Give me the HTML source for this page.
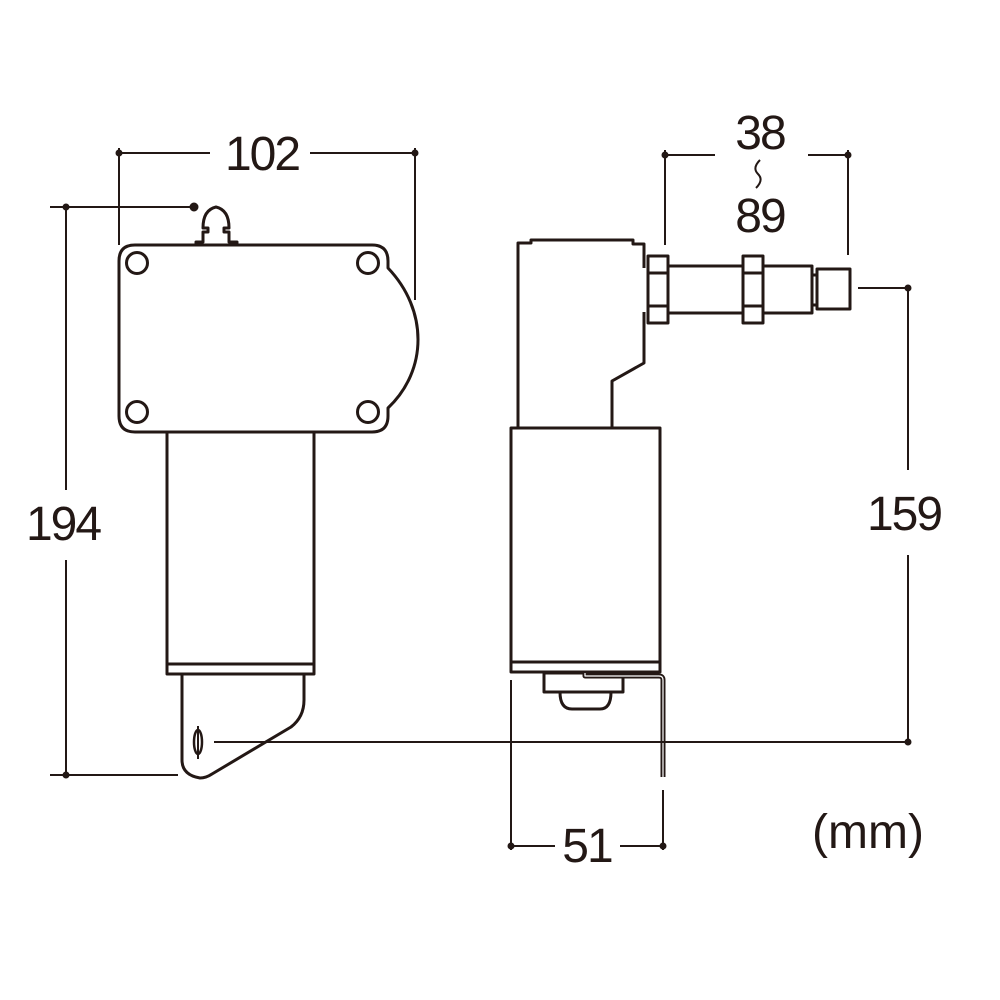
<!DOCTYPE html>
<html><head><style>body{margin:0;background:#fff}svg{display:block}text{font-family:"Liberation Sans",Arial,sans-serif;font-size:48px;fill:#231815;letter-spacing:-2px}</style></head>
<body>
<svg width="1000" height="1000" viewBox="0 0 1000 1000" xmlns="http://www.w3.org/2000/svg">
<g fill="none" stroke="#231815" stroke-width="3" stroke-linejoin="round">
<!-- Left view -->
<path d="M135 245 H372 Q388 245 388 261 V268 C428 310 428 370 388 408 V416 Q388 432 372 432 H135 Q119 432 119 416 V261 Q119 245 135 245 Z"/>
<circle cx="137" cy="263" r="10.5"/><circle cx="368" cy="263" r="10.5"/>
<circle cx="137" cy="412" r="10.5"/><circle cx="368" cy="412" r="10.5"/>
<path d="M196 245 V242 H203 V232 H208 V228 H203 Q203 210 216 207 Q229 210 229 228 H224 V232 H229 V242 H237 V245"/>
<rect x="167" y="432" width="147" height="242"/>
<line x1="167" y1="664" x2="314" y2="664"/>
<path d="M182 674 V760 Q182 775 200 778 Q206 778 212 774 L291 727 Q304 717 304 700 V674"/>
<ellipse cx="198" cy="742" rx="4" ry="12" stroke-width="2.5"/>
<line x1="198" y1="726" x2="198" y2="759" stroke-width="2"/>
<!-- Right view -->
<path d="M518 428 V243 H531 V240 H633 V244 H644 V268"/>
<path d="M644 312 V363 L612 381 V428"/>
<rect x="648" y="256" width="20" height="67"/>
<line x1="648" y1="273" x2="668" y2="273"/><line x1="648" y1="306" x2="668" y2="306"/>
<path d="M668 266 H743 M668 313 H743"/>
<rect x="743" y="256" width="20" height="67"/>
<line x1="743" y1="273" x2="763" y2="273"/><line x1="743" y1="306" x2="763" y2="306"/>
<path d="M763 266 H812 V313 H763"/>
<rect x="812" y="275" width="5" height="30"/>
<rect x="817" y="269" width="33" height="40"/>
<rect x="511" y="428" width="149" height="244"/>
<line x1="511" y1="662" x2="660" y2="662"/>
<rect x="544" y="673" width="79" height="19"/>
<path d="M560 692 Q560 709 572 709 H600 Q611 709 611 692"/>
<path d="M585 673 V676 H659 Q663 676 663 680 V777" stroke-width="5"/>
<path d="M585 673 V676 H659 Q663 676 663 680 V777" stroke="#fff" stroke-width="1.2"/>
</g>
<g stroke="#231815" stroke-width="2" fill="#231815">
<line x1="119" y1="148" x2="119" y2="245"/><line x1="415" y1="148" x2="415" y2="300"/>
<line x1="119" y1="153" x2="210" y2="153"/><line x1="310" y1="153" x2="415" y2="153"/>
<circle cx="119" cy="153" r="2.5"/><circle cx="415" cy="153" r="2.5"/>
<line x1="50" y1="207" x2="194" y2="207"/><line x1="50" y1="775" x2="178" y2="775"/>
<line x1="66" y1="207" x2="66" y2="490"/><line x1="66" y1="560" x2="66" y2="775"/>
<circle cx="66" cy="207" r="2.5"/><circle cx="66" cy="775" r="2.5"/><circle cx="194" cy="207" r="3.5"/>
<line x1="858" y1="288" x2="908" y2="288"/>
<line x1="908" y1="288" x2="908" y2="470"/><line x1="908" y1="555" x2="908" y2="742"/>
<line x1="214" y1="742" x2="908" y2="742"/>
<circle cx="908" cy="288" r="2.5"/><circle cx="908" cy="742" r="2.5"/>
<line x1="511" y1="680" x2="511" y2="850"/><line x1="663" y1="790" x2="663" y2="850"/>
<line x1="511" y1="846" x2="555" y2="846"/><line x1="620" y1="846" x2="663" y2="846"/>
<circle cx="511" cy="846" r="2.5"/><circle cx="663" cy="846" r="2.5"/>
<line x1="665" y1="150" x2="665" y2="245"/><line x1="848" y1="150" x2="848" y2="255"/>
<line x1="665" y1="155" x2="715" y2="155"/><line x1="808" y1="155" x2="848" y2="155"/>
<circle cx="665" cy="155" r="2.5"/><circle cx="848" cy="155" r="2.5"/>
<path d="M760 160 Q752 168 758 174 Q764 180 756 188" fill="none"/>
</g>
<text x="262" y="170" text-anchor="middle">102</text>
<text x="63" y="540" text-anchor="middle">194</text>
<text x="904" y="530" text-anchor="middle">159</text>
<text x="587" y="862" text-anchor="middle">51</text>
<text x="760" y="149" text-anchor="middle">38</text>
<text x="760" y="232" text-anchor="middle">89</text>
<text x="868" y="848" text-anchor="middle" style="letter-spacing:0">(mm)</text>
</svg>
</body></html>
